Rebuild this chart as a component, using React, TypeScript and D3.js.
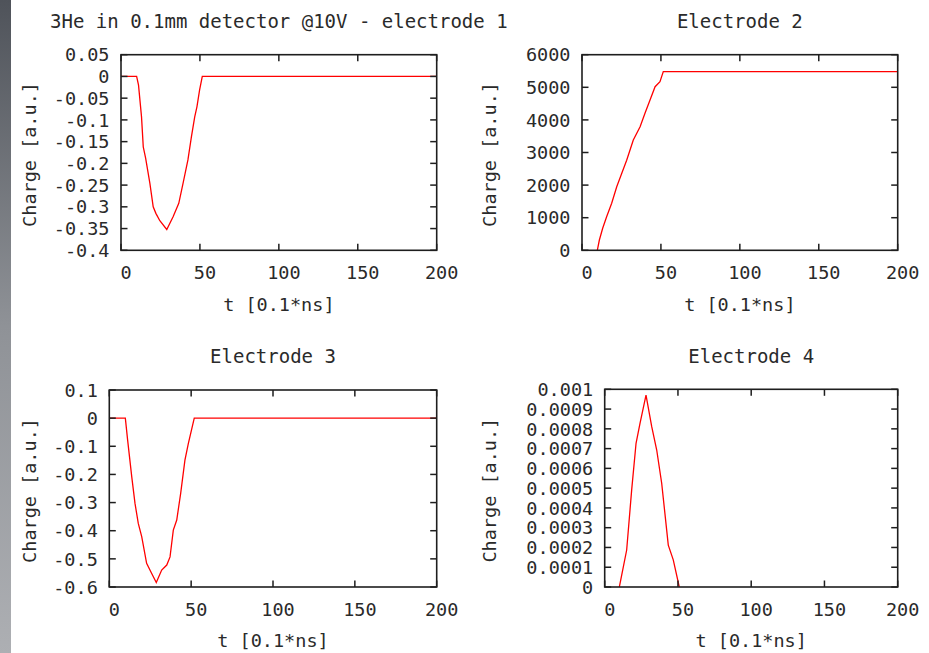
import React from "react";
import * as d3 from "d3";

// Time axis shared by all four electrodes, in units of 0.1 ns
const timeTicks = [0, 50, 100, 150, 200];

// Induced charge on each electrode: [t, charge]
const electrode1: [number, number][] = [
  [0, 0], [9.9, 0], [11.1, -0.02], [13.0, -0.093], [14.1, -0.162], [15.6, -0.188],
  [18.3, -0.246], [20.4, -0.3], [22.1, -0.315], [24.6, -0.332], [29.0, -0.352],
  [33.0, -0.323], [36.6, -0.292], [39.3, -0.246], [42.4, -0.192], [44.6, -0.139],
  [46.7, -0.093], [48.1, -0.07], [49.8, -0.031], [51.5, 0], [200, 0],
];
const electrode2: [number, number][] = [
  [9.7, 0], [11.0, 316], [13.1, 675], [15.6, 1031], [18.8, 1442], [22.0, 1951],
  [25.2, 2362], [28.3, 2760], [32.5, 3383], [36.8, 3791], [39.9, 4202],
  [43.1, 4610], [46.3, 5018], [49.4, 5172], [51.5, 5480], [200, 5480],
];
const electrode3: [number, number][] = [
  [0, 0], [9.8, 0], [11.2, -0.078], [13.7, -0.208], [15.7, -0.303], [17.7, -0.374],
  [19.8, -0.421], [22.8, -0.516], [25.9, -0.552], [28.7, -0.584], [32.0, -0.54],
  [35.1, -0.522], [37.1, -0.493], [39.1, -0.398], [41.2, -0.362], [43.6, -0.267],
  [46.2, -0.149], [48.3, -0.09], [51.9, 0], [200, 0],
];
const electrode4: [number, number][] = [
  [10.0, 0], [15.0, 0.000187], [18.4, 0.00049], [21.4, 0.000727], [24.1, 0.000828],
  [28.2, 0.000971], [32.1, 0.000811], [35.5, 0.000693], [38.9, 0.000525],
  [43.4, 0.000212], [46.8, 0.000137], [50.9, 0],
];

// Charge tick values per panel
const ticks1 = [0.05, 0, -0.05, -0.1, -0.15, -0.2, -0.25, -0.3, -0.35, -0.4];
const ticks2 = [0, 1000, 2000, 3000, 4000, 5000, 6000];
const ticks3 = [0.1, 0, -0.1, -0.2, -0.3, -0.4, -0.5, -0.6];
const ticks4 = [0, 0.0001, 0.0002, 0.0003, 0.0004, 0.0005, 0.0006, 0.0007, 0.0008, 0.0009, 0.001];

const titles = [
  "3He in 0.1mm detector @10V - electrode 1",
  "Electrode 2",
  "Electrode 3",
  "Electrode 4",
];
const xLabel = "t [0.1*ns]";
const yLabel = "Charge [a.u.]";

const FONT = "'DejaVu Sans Mono', monospace";
const TICK_LEN = 6.5;

interface PanelLayout {
  left: number;
  right: number;
  top: number;
  bottom: number;
  titleY: number;
  xLabelY: number;
  yLabelX: number;
}

const layouts: PanelLayout[] = [
  { left: 121, right: 436.7, top: 54.7, bottom: 250.3, titleY: 27.5, xLabelY: 311, yLabelX: 36 },
  { left: 582, right: 897.7, top: 54.7, bottom: 250.3, titleY: 27.5, xLabelY: 311, yLabelX: 496 },
  { left: 109.3, right: 436.7, top: 390, bottom: 587, titleY: 362.5, xLabelY: 647, yLabelX: 36 },
  { left: 604.7, right: 897.7, top: 389.3, bottom: 587, titleY: 362.5, xLabelY: 647, yLabelX: 496 },
];

const series = [electrode1, electrode2, electrode3, electrode4];
const yTicks = [ticks1, ticks2, ticks3, ticks4];

const fmt = (v: number) => String(Number(v.toFixed(6)));

function Panel({ idx }: { idx: number }) {
  const L = layouts[idx];
  const ticks = yTicks[idx];
  const x = d3.scaleLinear().domain([0, 200]).range([L.left, L.right]);
  const y = d3
    .scaleLinear()
    .domain([d3.min(ticks) as number, d3.max(ticks) as number])
    .range([L.bottom, L.top]);
  const line = d3
    .line<[number, number]>()
    .x((d) => x(d[0]))
    .y((d) => y(d[1]));
  const cx = (L.left + L.right) / 2;
  const cy = (L.top + L.bottom) / 2;
  const ink = "#1e1e1e";
  const textInk = "#2a2a2a";

  return (
    <g>
      <defs>
        <clipPath id={`clip${idx}`}>
          <rect x={L.left} y={L.top} width={L.right - L.left} height={L.bottom - L.top} />
        </clipPath>
      </defs>
      <text x={cx} y={L.titleY} textAnchor="middle" fontFamily={FONT} fontSize={19} fill={textInk}>
        {titles[idx]}
      </text>
      <path
        d={line(series[idx]) || ""}
        fill="none"
        stroke="#ff0000"
        strokeWidth={1.3}
        clipPath={`url(#clip${idx})`}
      />
      {/* y ticks, mirrored on the right */}
      {ticks.map((t) => (
        <g key={`y${t}`}>
          <line x1={L.left} x2={L.left + TICK_LEN} y1={y(t)} y2={y(t)} stroke={ink} strokeWidth={1.5} />
          <line x1={L.right} x2={L.right - TICK_LEN} y1={y(t)} y2={y(t)} stroke={ink} strokeWidth={1.5} />
          <text
            x={L.left - 11.5}
            y={y(t)}
            dy="0.36em"
            textAnchor="end"
            fontFamily={FONT}
            fontSize={18.5}
            fill={textInk}
          >
            {fmt(t)}
          </text>
        </g>
      ))}
      {/* x ticks, mirrored on the top */}
      {timeTicks.map((t) => (
        <g key={`x${t}`}>
          <line x1={x(t)} x2={x(t)} y1={L.bottom} y2={L.bottom - TICK_LEN} stroke={ink} strokeWidth={1.5} />
          <line x1={x(t)} x2={x(t)} y1={L.top} y2={L.top + TICK_LEN} stroke={ink} strokeWidth={1.5} />
          <text
            x={x(t) + 5}
            y={L.bottom + 29}
            textAnchor="middle"
            fontFamily={FONT}
            fontSize={18.5}
            fill={textInk}
          >
            {fmt(t)}
          </text>
        </g>
      ))}
      <rect
        x={L.left}
        y={L.top}
        width={L.right - L.left}
        height={L.bottom - L.top}
        fill="none"
        stroke={ink}
        strokeWidth={1.6}
      />
      <text x={cx} y={L.xLabelY} textAnchor="middle" fontFamily={FONT} fontSize={18.5} fill={textInk}>
        {xLabel}
      </text>
      <text
        transform={`translate(${L.yLabelX},${cy + 2}) rotate(-90)`}
        textAnchor="middle"
        fontFamily={FONT}
        fontSize={18.5}
        fill={textInk}
      >
        {yLabel}
      </text>
    </g>
  );
}

export default function App() {
  return (
    <svg
      width={929}
      height={653}
      style={{ position: "absolute", left: 0, top: 0, background: "#ffffff" }}
    >
      <defs>
        <linearGradient id="edge" x1="0" y1="0" x2="0" y2="1">
          <stop offset="0" stopColor="#4f535a" />
          <stop offset="0.5" stopColor="#8f9297" />
          <stop offset="1" stopColor="#adafb3" />
        </linearGradient>
      </defs>
      <rect x={0} y={0} width={929} height={653} fill="#ffffff" />
      <rect x={0} y={0} width={11} height={653} fill="url(#edge)" />
      {[0, 1, 2, 3].map((i) => (
        <Panel key={i} idx={i} />
      ))}
    </svg>
  );
}
